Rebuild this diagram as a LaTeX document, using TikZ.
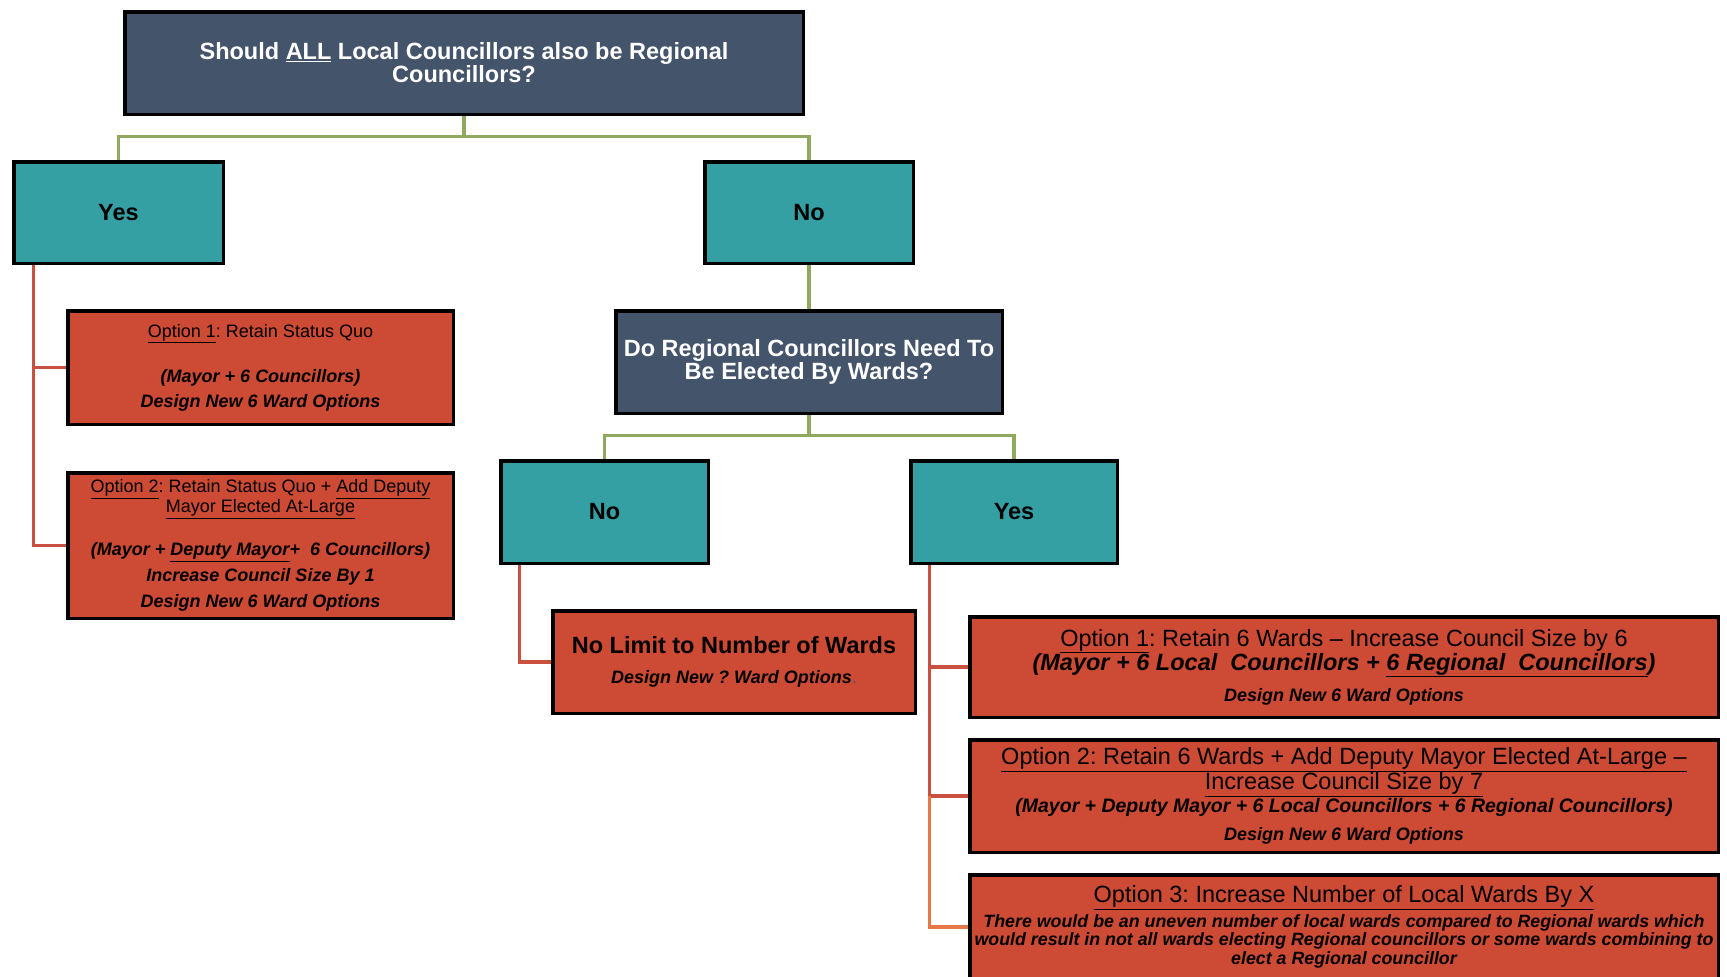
\documentclass[tikz,border=0pt]{standalone}
\usepackage{fontspec}
\setmainfont{Liberation Sans}
\frenchspacing
\newcommand\bfit{\bfseries\itshape}
\definecolor{darkc}{HTML}{44546A}
\definecolor{tealc}{HTML}{35A0A3}
\definecolor{redc}{HTML}{CD4A35}
\definecolor{greenc}{HTML}{8FAA5E}
\definecolor{rlinec}{HTML}{C9503E}
\definecolor{olinec}{HTML}{E8784A}
\pgfdeclarelayer{bg}
\pgfsetlayers{bg,main}
\begin{document}
\begin{tikzpicture}[x=1pt,y=-1pt,
  box/.style={draw=black, line width=3.5pt, align=center, inner sep=0pt, outer sep=0pt},
  dbox/.style={box, fill=darkc, text=white, font=\fontsize{23.5}{23}\selectfont\bfseries},
  tbox/.style={box, fill=tealc, text=black, font=\fontsize{23.5}{24}\selectfont\bfseries},
  rbox/.style={box, fill=redc, text=black},
  gline/.style={draw=greenc, line width=3.2pt},
  rline/.style={draw=rlinec, line width=3.2pt},
  oline/.style={draw=olinec, line width=3.2pt}]
\useasboundingbox (0,0) rectangle (1727,977);

% question boxes
\node[dbox, minimum width=678.5pt, minimum height=102.5pt] (q1) at (464,63)
  {Should \underline{ALL} Local Councillors also be Regional\\Councillors?};
\node[tbox, minimum width=209.5pt, minimum height=101.5pt] (yes1) at (118.5,212.5) {Yes};
\node[tbox, minimum width=208.5pt, minimum height=101.5pt] (no1) at (809,212.5) {No};

\node[rbox, minimum width=385.5pt, minimum height=113.5pt, font=\fontsize{18}{25}\selectfont] (o1l) at (260.5,367.5)
  {\underline{Option 1}: Retain Status Quo\\[20pt]
   {\bfit (Mayor + 6 Councillors)}\\
   {\bfit Design New 6 Ward Options}};
\node[rbox, minimum width=385.5pt, minimum height=145.5pt, font=\fontsize{18}{20}\selectfont] (o2l) at (260.5,545.5)
  {\underline{Option 2}: Retain Status Quo + \underline{Add Deputy}\\
   \underline{Mayor Elected At-Large}\\[23pt]
   {\bfit (Mayor + \underline{Deputy Mayor}+~~6 Councillors)}\\[6pt]
   {\bfit Increase Council Size By 1}\\[6pt]
   {\bfit Design New 6 Ward Options}};

\node[dbox, minimum width=386.5pt, minimum height=102.5pt] (q2) at (809,362)
  {Do Regional Councillors Need To\\Be Elected By Wards?};
\node[tbox, minimum width=207.5pt, minimum height=102.5pt] (no2) at (604.5,512) {No};
\node[tbox, minimum width=206.5pt, minimum height=102.5pt] (yes2) at (1014,512) {Yes};

\node[rbox, minimum width=362.5pt, minimum height=102.5pt, font=\fontsize{23.5}{30}\selectfont] (nolim) at (734,662)
  {{\bfseries No Limit to Number of Wards}\\
   {\fontsize{18}{20}\selectfont\bfit Design New ? Ward Options{\mdseries\upshape\color{darkc}.}}};

\node[rbox, minimum width=748.5pt, minimum height=100.5pt, font=\fontsize{23.5}{24}\selectfont] (r1) at (1344,667)
  {\underline{Option 1}: Retain 6 Wards -- Increase Council Size by 6\\
   {\bfit (Mayor + 6 Local~ Councillors + \underline{6 Regional~ Councillors})}\\[7pt]
   {\fontsize{18}{20}\selectfont\bfit Design New 6 Ward Options}};
\node[rbox, minimum width=748.5pt, minimum height=112.5pt, font=\fontsize{23.5}{23}\selectfont] (r2) at (1344,796)
  {\underline{Option 2: Retain 6 Wards + Add Deputy Mayor Elected At-Large --}\\
   \underline{Increase Council Size by 7}\\
   {\fontsize{19.5}{20}\selectfont\bfit (Mayor + Deputy Mayor + 6 Local Councillors + 6 Regional Councillors)}\\[5pt]
   {\fontsize{18}{20}\selectfont\bfit Design New 6 Ward Options}};
\node[rbox, minimum width=748.5pt, minimum height=104.5pt, font=\fontsize{17.8}{18.7}\selectfont] (r3) at (1344,927)
  {{\fontsize{23.5}{24}\selectfont\underline{Option 3: Increase Number of Local Wards By X}}\\[3.3pt]
   {\bfit There would be an uneven number of local wards compared to Regional wards which}\\
   {\bfit would result in not all wards electing Regional councillors or some wards combining to}\\
   {\bfit elect a Regional councillor}};

% background and connectors
\begin{pgfonlayer}{bg}
  \fill[white] (0,0) rectangle (1727,977);
  \coordinate (j1) at ([yshift=-22pt]q1.south);
  \draw[gline] (q1.south) -- (j1);
  \draw[gline] (yes1.north) |- (j1) -| (no1.north);
  \draw[gline] (no1.south) -- (q2.north);
  \coordinate (j2) at ([yshift=-22pt]q2.south);
  \draw[gline] (q2.south) -- (j2);
  \draw[gline] (no2.north) |- (j2) -| (yes2.north);

  \coordinate (ya) at ([xshift=20pt]yes1.south west);
  \draw[rline] (ya) |- (o1l.west);
  \draw[rline] (ya) |- (o2l.west);

  \coordinate (na) at ([xshift=19pt]no2.south west);
  \draw[rline] (na) |- (nolim.west);

  \coordinate (yb) at ([xshift=19pt]yes2.south west);
  \draw[rline] (yb) |- (r1.west);
  \draw[rline] (yb) |- (r2.west);
  \draw[oline] (yb |- r2.west) |- (r3.west);
\end{pgfonlayer}
\end{tikzpicture}
\end{document}
